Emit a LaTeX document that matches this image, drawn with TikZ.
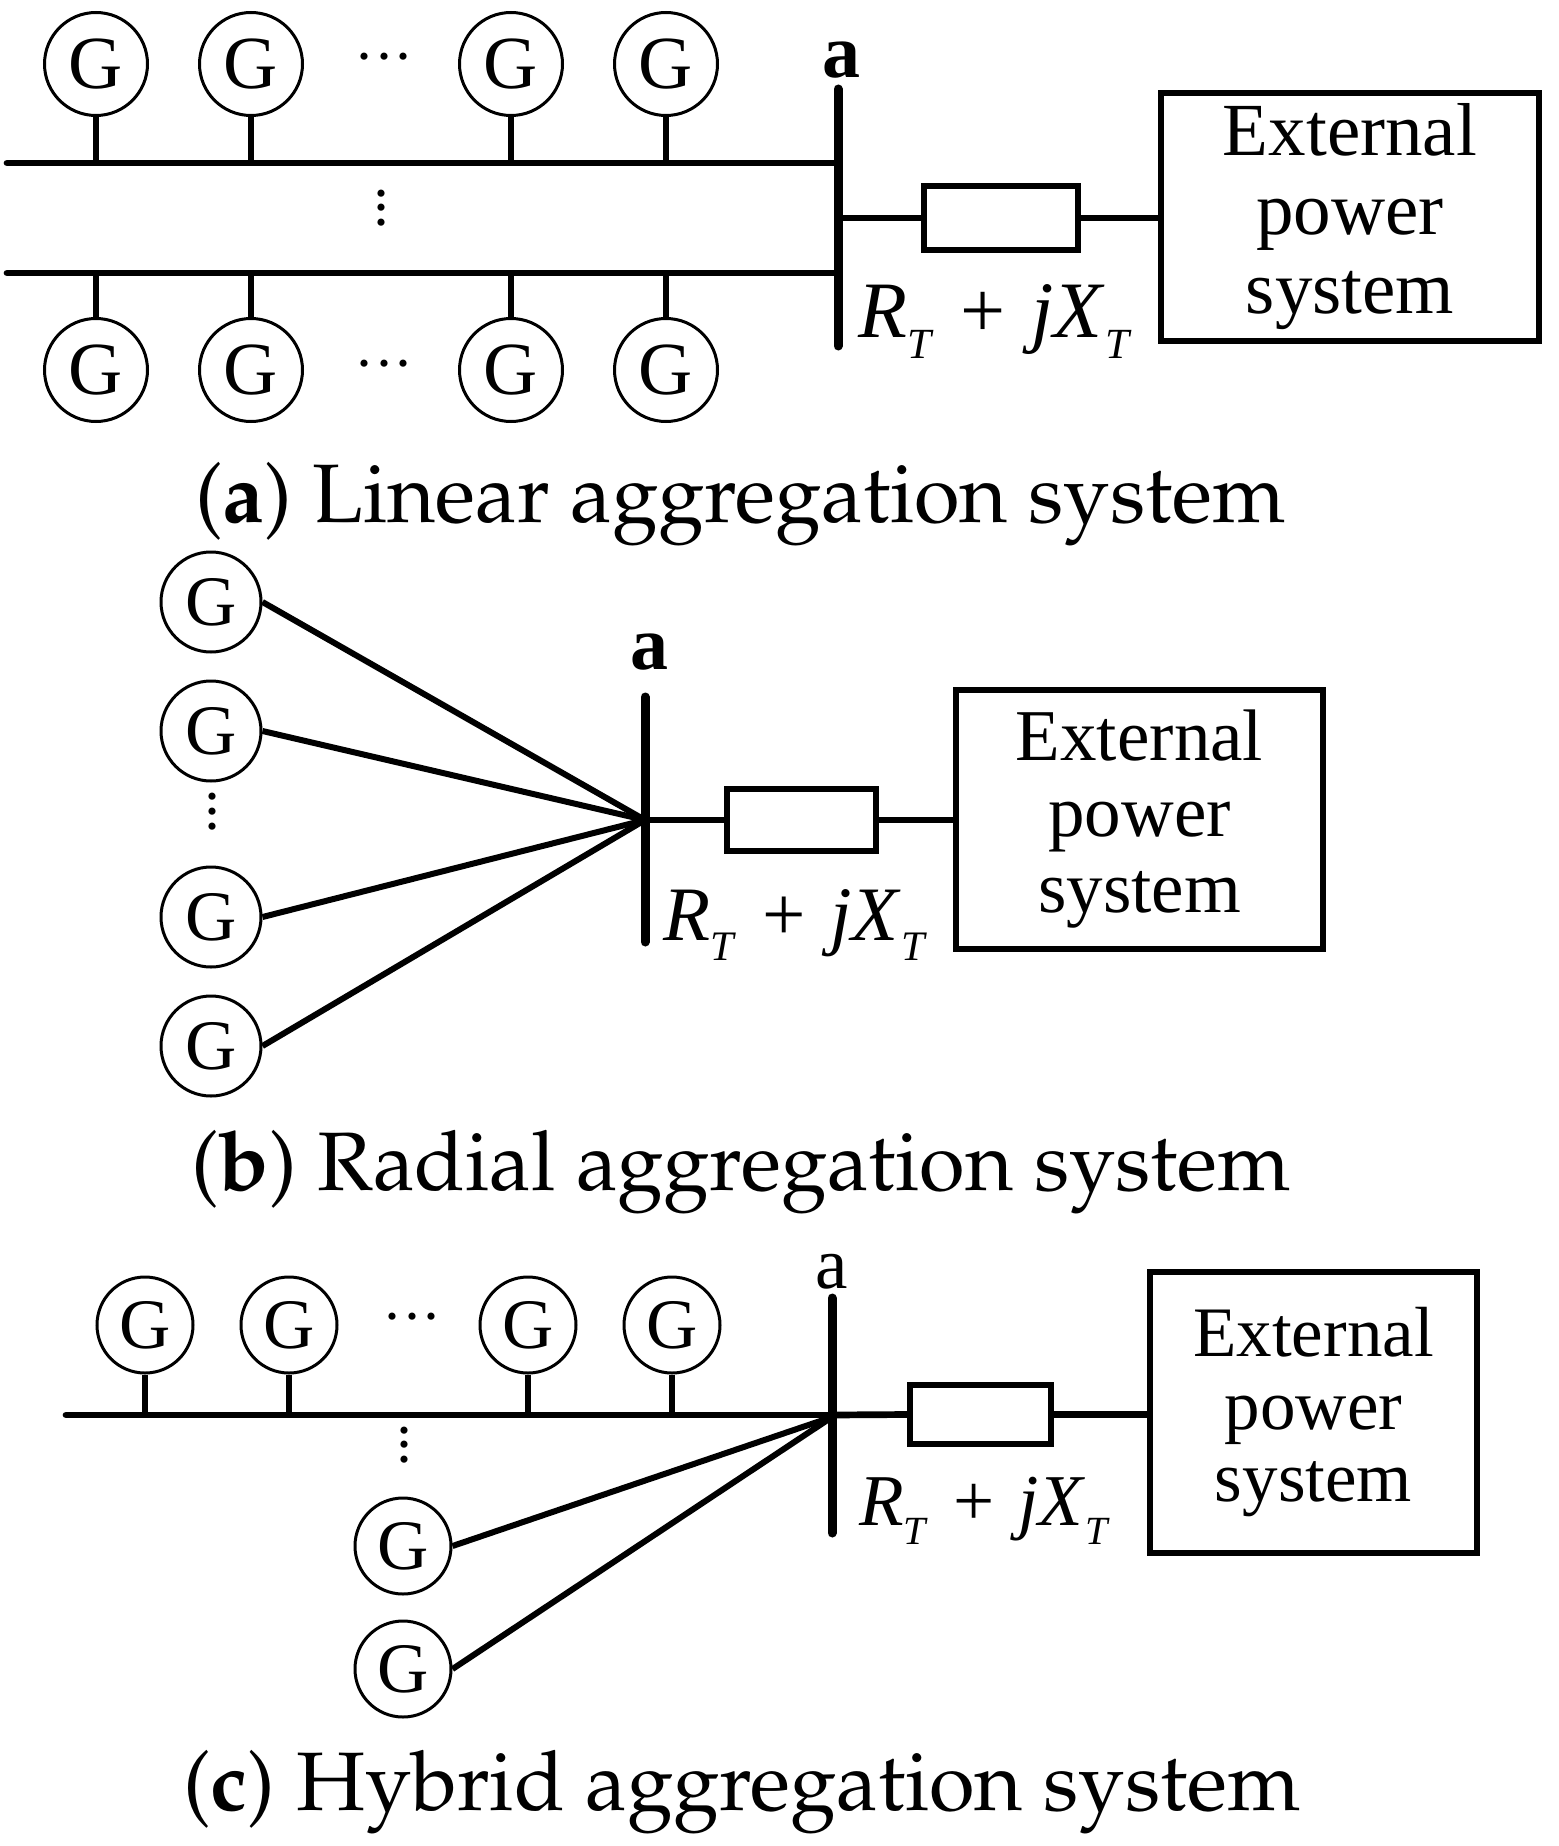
\documentclass[tikz,border=0pt]{standalone}
\usepackage[T1]{fontenc}
\usepackage{fontspec}
\setmainfont{Liberation Serif}
\newcommand\imped[5]{{\fontsize{#1}{#1}\selectfont\textit{R}\raisebox{-#3pt}{\fontsize{#2}{#2}\selectfont\textit{T}}\hspace{#4pt}+\hspace{#5pt}\textit{jX}\raisebox{-#3pt}{\fontsize{#2}{#2}\selectfont\textit{T}}}}
\newcommand\capfont{\fontencoding{T1}\fontfamily{ppl}\fontsize{83}{90}\selectfont}
\newcommand\mydotsh{{\fontsize{60}{60}\selectfont ···}}
\newcommand\mydotsv[1]{{\fontsize{60}{60}\selectfont\vbox{\baselineskip=#1pt\lineskiplimit=-100pt\lineskip=0pt\hbox{·}\hbox{·}\hbox{·}}}}
\begin{document}
\begin{tikzpicture}[x=1pt,y=-1pt,
  gen/.style={circle,draw,line width=3pt,inner sep=0pt,minimum size=#1},
  wire/.style={line width=6.7pt},
  radial/.style={line width=6pt},
  bus/.style={line width=6.7pt,line cap=round},
  bar/.style={line width=9pt,line cap=round},
  res/.style={draw,line width=6pt,inner sep=0pt},
  ext/.style={draw,line width=5.5pt,inner sep=0pt,align=center}]
\fill[white] (0,0) rectangle (1558,1846);
\useasboundingbox (0,0) rectangle (1558,1846);
%% (a)
\foreach \n/\x in {1/96,2/251,3/511,4/666}{
  \node[gen=103pt,font=\fontsize{75}{75}\selectfont] (at\n) at (\x,64) {G};
  \node[gen=103pt,font=\fontsize{75}{75}\selectfont] (ab\n) at (\x,370) {G};
}
\coordinate (aTL) at (7,163); \coordinate (aTR) at (838,163);
\coordinate (aBL) at (7,273); \coordinate (aBR) at (838,273);
\draw[bus] (aTL) -- (aTR);
\draw[bus] (aBL) -- (aBR);
\foreach \n in {1,...,4}{
  \draw[wire] (at\n.south) -- (at\n.south |- aTL);
  \draw[wire] (ab\n.north) -- (ab\n.north |- aBL);
}
\coordinate (abarT) at (838,89); \coordinate (abarB) at (838,346);
\draw[bar] (abarT) -- (abarB);
\node[anchor=base,font=\fontsize{76}{76}\selectfont\bfseries] (alab) at (841,78) {a};
\coordinate (aj) at (838,218);
\node[res,minimum width=154pt,minimum height=63pt] (ares) at (1000.5,218) {};
\node[ext,minimum width=378pt,minimum height=248pt,font=\fontsize{75}{79}\selectfont] (abox) at (1350,217) {External\\power\\system};
\draw[wire] (aj) -- (ares.west);
\draw[wire] (ares.east) -- (ares.east -| abox.west);
\node[anchor=base west,inner sep=0pt] (aimp) at (858,337) {\imped{80}{43}{21}{27}{26}};
\node (adh1) at (384,65) {\mydotsh};
\node (adh2) at (384,372) {\mydotsh};
\node (adv) at (381,216) {\mydotsv{14.5}};
\node[anchor=base west,inner sep=0pt] (acap) at (195,522) {\capfont(\textbf{a}) Linear aggregation system};
%% (b)
\foreach \n/\y in {1/602,2/731,3/917,4/1046}{
  \node[gen=100pt,font=\fontsize{71}{71}\selectfont] (b\n) at (211,\y) {G};
}
\coordinate (bj) at (645,820);
\foreach \n in {1,...,4}{ \draw[radial] (b\n.east) -- (bj); }
\coordinate (bbarT) at (645,697); \coordinate (bbarB) at (645,942);
\draw[bar] (bbarT) -- (bbarB);
\node[anchor=base,font=\fontsize{76}{76}\selectfont\bfseries] (blab) at (649,669) {a};
\node[res,minimum width=149pt,minimum height=62pt] (bres) at (801.5,820) {};
\node[ext,minimum width=367pt,minimum height=259pt,font=\fontsize{73}{76}\selectfont] (bbox) at (1139.5,819.5) {External\\power\\system};
\draw[wire] (bj) -- (bres.west);
\draw[wire] (bres.east) -- (bres.east -| bbox.west);
\node[anchor=base west,inner sep=0pt] (bimp) at (663,940) {\imped{77}{42}{20}{26}{25}};
\node (bdv) at (212,820) {\mydotsv{15}};
\node[anchor=base west,inner sep=0pt] (bcap) at (191,1190) {\capfont(\textbf{b}) Radial aggregation system};
%% (c)
\foreach \n/\x in {1/145,2/289,3/528,4/672}{
  \node[gen=96pt,font=\fontsize{71}{71}\selectfont] (ct\n) at (\x,1325) {G};
}
\coordinate (cL) at (66,1415); \coordinate (cR) at (832,1415);
\draw[bus] (cL) -- (cR);
\foreach \n in {1,...,4}{ \draw[wire] (ct\n.south) -- (ct\n.south |- cL); }
\node[gen=96pt,font=\fontsize{71}{71}\selectfont] (cb1) at (403,1546) {G};
\node[gen=96pt,font=\fontsize{71}{71}\selectfont] (cb2) at (403,1669) {G};
\coordinate (cj) at (832,1417);
\draw[radial] (cb1.east) -- (cj);
\draw[radial] (cb2.east) -- (cj);
\coordinate (cbarT) at (832,1298); \coordinate (cbarB) at (832,1533);
\draw[bar] (cbarT) -- (cbarB);
\node[anchor=base,font=\fontsize{73}{73}\selectfont] (clab) at (832,1288) {a};
\node[res,minimum width=141pt,minimum height=59pt] (cres) at (980.5,1414.5) {};
\node[ext,minimum width=327pt,minimum height=281pt,font=\fontsize{71}{72.5}\selectfont] (cbox) at (1313.5,1412.5) {External\\power\\system};
\draw[wire] (cR) -- (cres.west);
\draw[wire] (cres.east) -- (cres.east -| cbox.west);
\node[anchor=base west,inner sep=0pt] (cimp) at (859,1525) {\imped{73}{40}{19}{25}{24}};
\node (cdh) at (412,1325) {\mydotsh};
\node (cdv) at (404,1453) {\mydotsv{14.5}};
\node[anchor=base west,inner sep=0pt] (ccap) at (183,1810) {\capfont(\textbf{c}) Hybrid aggregation system};
\end{tikzpicture}
\end{document}
